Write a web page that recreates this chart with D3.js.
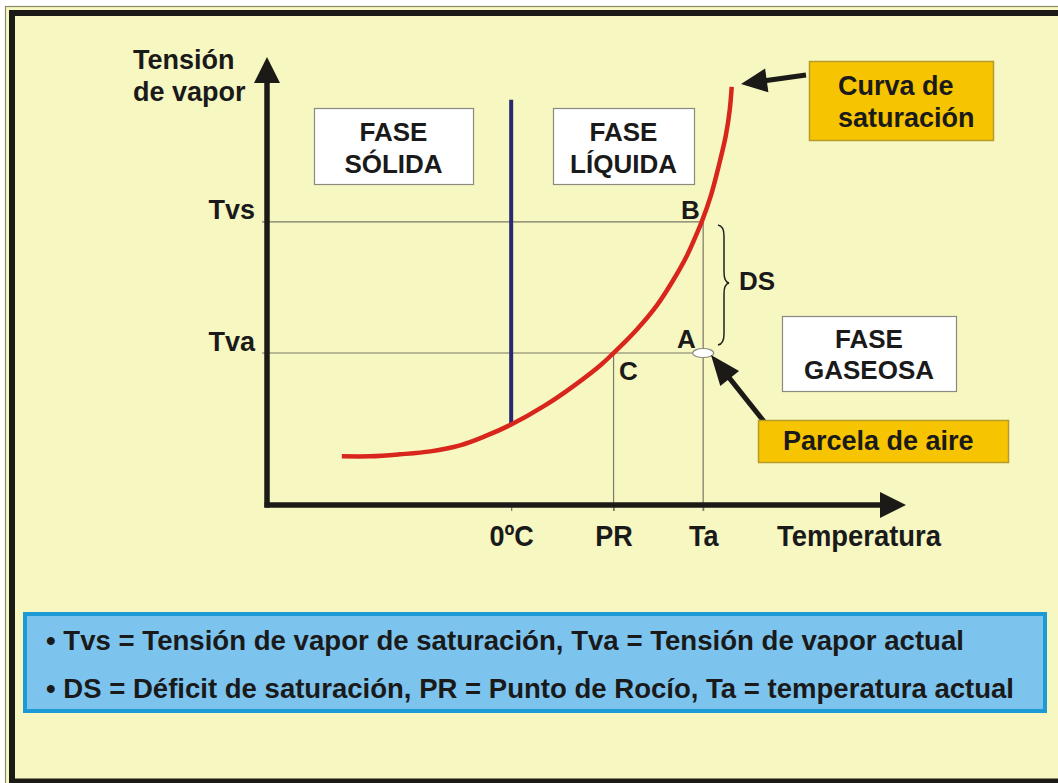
<!DOCTYPE html>
<html>
<head>
<meta charset="utf-8">
<script src="https://cdn.jsdelivr.net/npm/d3@7"></script>
<style>
  html, body { margin: 0; padding: 0; background: #ffffff; }
  svg { display: block; }
  text { font-family: "Liberation Sans", Arial, Helvetica, sans-serif; font-weight: bold; fill: #1a1a1a; }
</style>
</head>
<body>
<svg id="chart" width="1058" height="783"></svg>
<script>
// ---- data ----
const tempLabels = ["0ºC", "PR", "Ta"];
const tempValues = [0, 10.4, 19.5];
const presLabels = ["Tvs", "Tva"];
const presValues = [28.5, 15.3];
const curveT = [-17.2, -14.3, -11.3, -8.2, -5.2, -2.7, 0, 3.4, 6.5, 9.1, 10.4, 12.7, 14.8, 16.5, 17.9, 18.8, 19.35, 20.3, 21.1, 21.8, 22.2, 22.4];
const curveP = [4.9, 4.9, 5.1, 5.4, 6.0, 6.9, 8.1, 10.0, 12.1, 14.1, 15.3, 17.6, 20.1, 22.7, 25.2, 27.2, 28.5, 31.2, 34.2, 37.2, 39.8, 42.1];
const freezeTop = 40.8;   // top of the 0ºC line, in pressure units
const pointA = { t: 19.5, p: 15.3 };
const phaseLabels = [["FASE", "SÓLIDA"], ["FASE", "LÍQUIDA"], ["FASE", "GASEOSA"]];
const noteLines = [
  "• Tvs = Tensión de vapor de saturación, Tva = Tensión de vapor actual",
  "• DS = Déficit de saturación, PR = Punto de Rocío, Ta = temperatura actual"
];

const svg = d3.select("#chart");
const W = 1058, H = 783;

// ---- frame ----
svg.append("rect").attr("x", 0).attr("y", 0).attr("width", W).attr("height", H).attr("fill", "#ffffff");
svg.append("rect").attr("x", 5.5).attr("y", 6.5).attr("width", 1200).attr("height", 1000)
  .attr("fill", "#f7f7c1").attr("stroke", "#8d8a68").attr("stroke-width", 1.2);
svg.append("rect").attr("x", 12).attr("y", 13).attr("width", 1200).attr("height", 768.5)
  .attr("fill", "#f7f7c1").attr("stroke", "#1c1a17").attr("stroke-width", 6);

// ---- scales ----
const x = d3.scaleLinear().domain([-24.8, 40]).range([267, 905]);
const y = d3.scaleLinear().domain([0, 45]).range([505, 58]);

const guide = "#7a7868";

// guide lines
svg.append("line").attr("x1", x(-24.8) - 5).attr("x2", x(tempValues[2])).attr("y1", y(presValues[0])).attr("y2", y(presValues[0]))
  .attr("stroke", guide).attr("stroke-width", 1.2);
svg.append("line").attr("x1", x(-24.8) - 5).attr("x2", x(tempValues[2])).attr("y1", y(presValues[1])).attr("y2", y(presValues[1]))
  .attr("stroke", guide).attr("stroke-width", 1.2);
svg.append("line").attr("x1", x(tempValues[1])).attr("x2", x(tempValues[1])).attr("y1", y(presValues[1])).attr("y2", y(0) + 6)
  .attr("stroke", guide).attr("stroke-width", 1.2);
svg.append("line").attr("x1", x(tempValues[2])).attr("x2", x(tempValues[2])).attr("y1", y(presValues[0])).attr("y2", y(0) + 6)
  .attr("stroke", guide).attr("stroke-width", 1.2);

// x axis ticks + labels via d3 axis
const xAxis = d3.axisBottom(x).tickValues(tempValues).tickFormat((d, i) => tempLabels[i]).tickSize(6).tickPadding(12);
const gx = svg.append("g").attr("transform", `translate(0,${y(0)})`).call(xAxis);
gx.select(".domain").remove();
gx.selectAll(".tick line").attr("stroke", guide).attr("stroke-width", 1.2);
gx.selectAll(".tick text").attr("font-size", 30).attr("fill", "#1a1a1a")
  .attr("font-family", "'Liberation Sans', Arial, sans-serif").attr("font-weight", "bold")
  .attr("y", 41).attr("dy", 0);

// y axis labels via d3 axis
const yAxis = d3.axisLeft(y).tickValues(presValues).tickFormat((d, i) => presLabels[i]).tickSize(0).tickPadding(12);
const gy = svg.append("g").attr("transform", `translate(${x(-24.8)},0)`).call(yAxis);
gy.select(".domain").remove();
gy.selectAll(".tick text").attr("font-size", 27).attr("fill", "#1a1a1a")
  .attr("font-family", "'Liberation Sans', Arial, sans-serif").attr("font-weight", "bold")
  .attr("dy", -3);

// condense the x tick labels (narrow face in the original)
gx.selectAll(".tick text").each(function () {
  const w = this.getComputedTextLength();
  d3.select(this).attr("textLength", w * 0.9).attr("lengthAdjust", "spacingAndGlyphs");
});

// axis title "Temperatura"
const tt = svg.append("text").attr("x", 777).attr("y", 546).attr("font-size", 30).text("Temperatura");
tt.attr("textLength", tt.node().getComputedTextLength() * 0.913).attr("lengthAdjust", "spacingAndGlyphs");

// y title
svg.append("text").attr("x", 133).attr("y", 69).attr("font-size", 27).text("Tensión");
svg.append("text").attr("x", 133).attr("y", 101).attr("font-size", 27).text("de vapor");

// ---- 0ºC line ----
svg.append("line").attr("x1", x(0)).attr("x2", x(0)).attr("y1", y(freezeTop)).attr("y2", y(curveP[6]))
  .attr("stroke", "#2a2873").attr("stroke-width", 4);

// ---- saturation curve ----
const line = d3.line().x(d => x(d[0])).y(d => y(d[1])).curve(d3.curveCatmullRom.alpha(0.5));
svg.append("path").datum(curveT.map((t, i) => [t, curveP[i]]))
  .attr("d", line).attr("fill", "none").attr("stroke", "#d8261d").attr("stroke-width", 4.5);

// ---- axes arrows ----
const axisCol = "#1c1a17";
svg.append("line").attr("x1", x(-24.8) - 2.5).attr("x2", 882).attr("y1", y(0)).attr("y2", y(0))
  .attr("stroke", axisCol).attr("stroke-width", 5.5);
svg.append("polygon").attr("points", `880,${y(0) - 13} 906,${y(0)} 880,${y(0) + 13}`).attr("fill", axisCol);
svg.append("line").attr("x1", x(-24.8)).attr("x2", x(-24.8)).attr("y1", y(0) + 2.5).attr("y2", 80)
  .attr("stroke", axisCol).attr("stroke-width", 5.5);
svg.append("polygon").attr("points", `${x(-24.8) - 13},83 ${x(-24.8)},57 ${x(-24.8) + 13},83`).attr("fill", axisCol);

// ---- phase boxes ----
const boxes = [
  { x: 314, y: 108, w: 159, h: 76, b1: 141, b2: 173 },
  { x: 553, y: 108, w: 141, h: 76, b1: 141, b2: 173 },
  { x: 782, y: 316, w: 174, h: 75, b1: 348, b2: 379 }
];
boxes.forEach((b, i) => {
  svg.append("rect").attr("x", b.x + 0.5).attr("y", b.y + 0.5).attr("width", b.w).attr("height", b.h)
    .attr("fill", "#ffffff").attr("stroke", "#8a8a80").attr("stroke-width", 1.2);
  svg.append("text").attr("x", b.x + b.w / 2).attr("y", b.b1).attr("text-anchor", "middle").attr("font-size", 26).text(phaseLabels[i][0]);
  svg.append("text").attr("x", b.x + b.w / 2).attr("y", b.b2).attr("text-anchor", "middle").attr("font-size", 26).text(phaseLabels[i][1]);
});

// ---- point labels ----
svg.append("text").attr("x", 681).attr("y", 219).attr("font-size", 26).text("B");
svg.append("text").attr("x", 677).attr("y", 348).attr("font-size", 26).text("A");
svg.append("text").attr("x", 619).attr("y", 380).attr("font-size", 26).text("C");
svg.append("text").attr("x", 739).attr("y", 290).attr("font-size", 26).text("DS");

// brace
svg.append("path")
  .attr("d", "M718,225 Q724,226 724,236 L724,272 Q724,282 729,283 Q724,284 724,294 L724,334 Q724,344 718,345")
  .attr("fill", "none").attr("stroke", "#222").attr("stroke-width", 1.5);

// air parcel
svg.append("ellipse").attr("cx", x(pointA.t)).attr("cy", y(pointA.p)).attr("rx", 10.5).attr("ry", 4.5)
  .attr("fill", "#ffffff").attr("stroke", "#8a8a80").attr("stroke-width", 1.2);

// ---- callout arrows ----
function arrow(x1, y1, x2, y2, len, half, lw) {
  const dx = x2 - x1, dy = y2 - y1, L = Math.hypot(dx, dy);
  const ux = dx / L, uy = dy / L;
  const bx = x2 - ux * len, by = y2 - uy * len;
  svg.append("line").attr("x1", x1).attr("y1", y1).attr("x2", bx + ux * 2).attr("y2", by + uy * 2)
    .attr("stroke", axisCol).attr("stroke-width", lw);
  svg.append("polygon").attr("points",
    `${x2},${y2} ${bx - uy * half},${by + ux * half} ${bx + uy * half},${by - ux * half}`).attr("fill", axisCol);
}
arrow(806, 75, 741, 84, 26, 12, 5);
arrow(766, 424, 711, 355, 30, 12, 5);

// ---- callout boxes ----
svg.append("rect").attr("x", 809.5).attr("y", 61.5).attr("width", 184).attr("height", 79)
  .attr("fill", "#f6c400").attr("stroke", "#b89a2a").attr("stroke-width", 1.5);
svg.append("text").attr("x", 838).attr("y", 95).attr("font-size", 27).text("Curva de");
svg.append("text").attr("x", 838).attr("y", 127).attr("font-size", 27).text("saturación");

svg.append("rect").attr("x", 758.5).attr("y", 420.5).attr("width", 250).attr("height", 42)
  .attr("fill", "#f6c400").attr("stroke", "#b89a2a").attr("stroke-width", 1.5);
svg.append("text").attr("x", 783).attr("y", 450).attr("font-size", 27).text("Parcela de aire");

// ---- notes box ----
svg.append("rect").attr("x", 25).attr("y", 614).attr("width", 1020).attr("height", 97)
  .attr("fill", "#7cc4ee").attr("stroke", "#1c9ad6").attr("stroke-width", 4);
const noteWidths = [918, 968];
noteLines.forEach((s, i) => {
  svg.append("text").attr("x", 46).attr("y", 650 + i * 48).attr("font-size", 28)
    .attr("textLength", noteWidths[i]).attr("lengthAdjust", "spacingAndGlyphs").text(s);
});
</script>
</body>
</html>
